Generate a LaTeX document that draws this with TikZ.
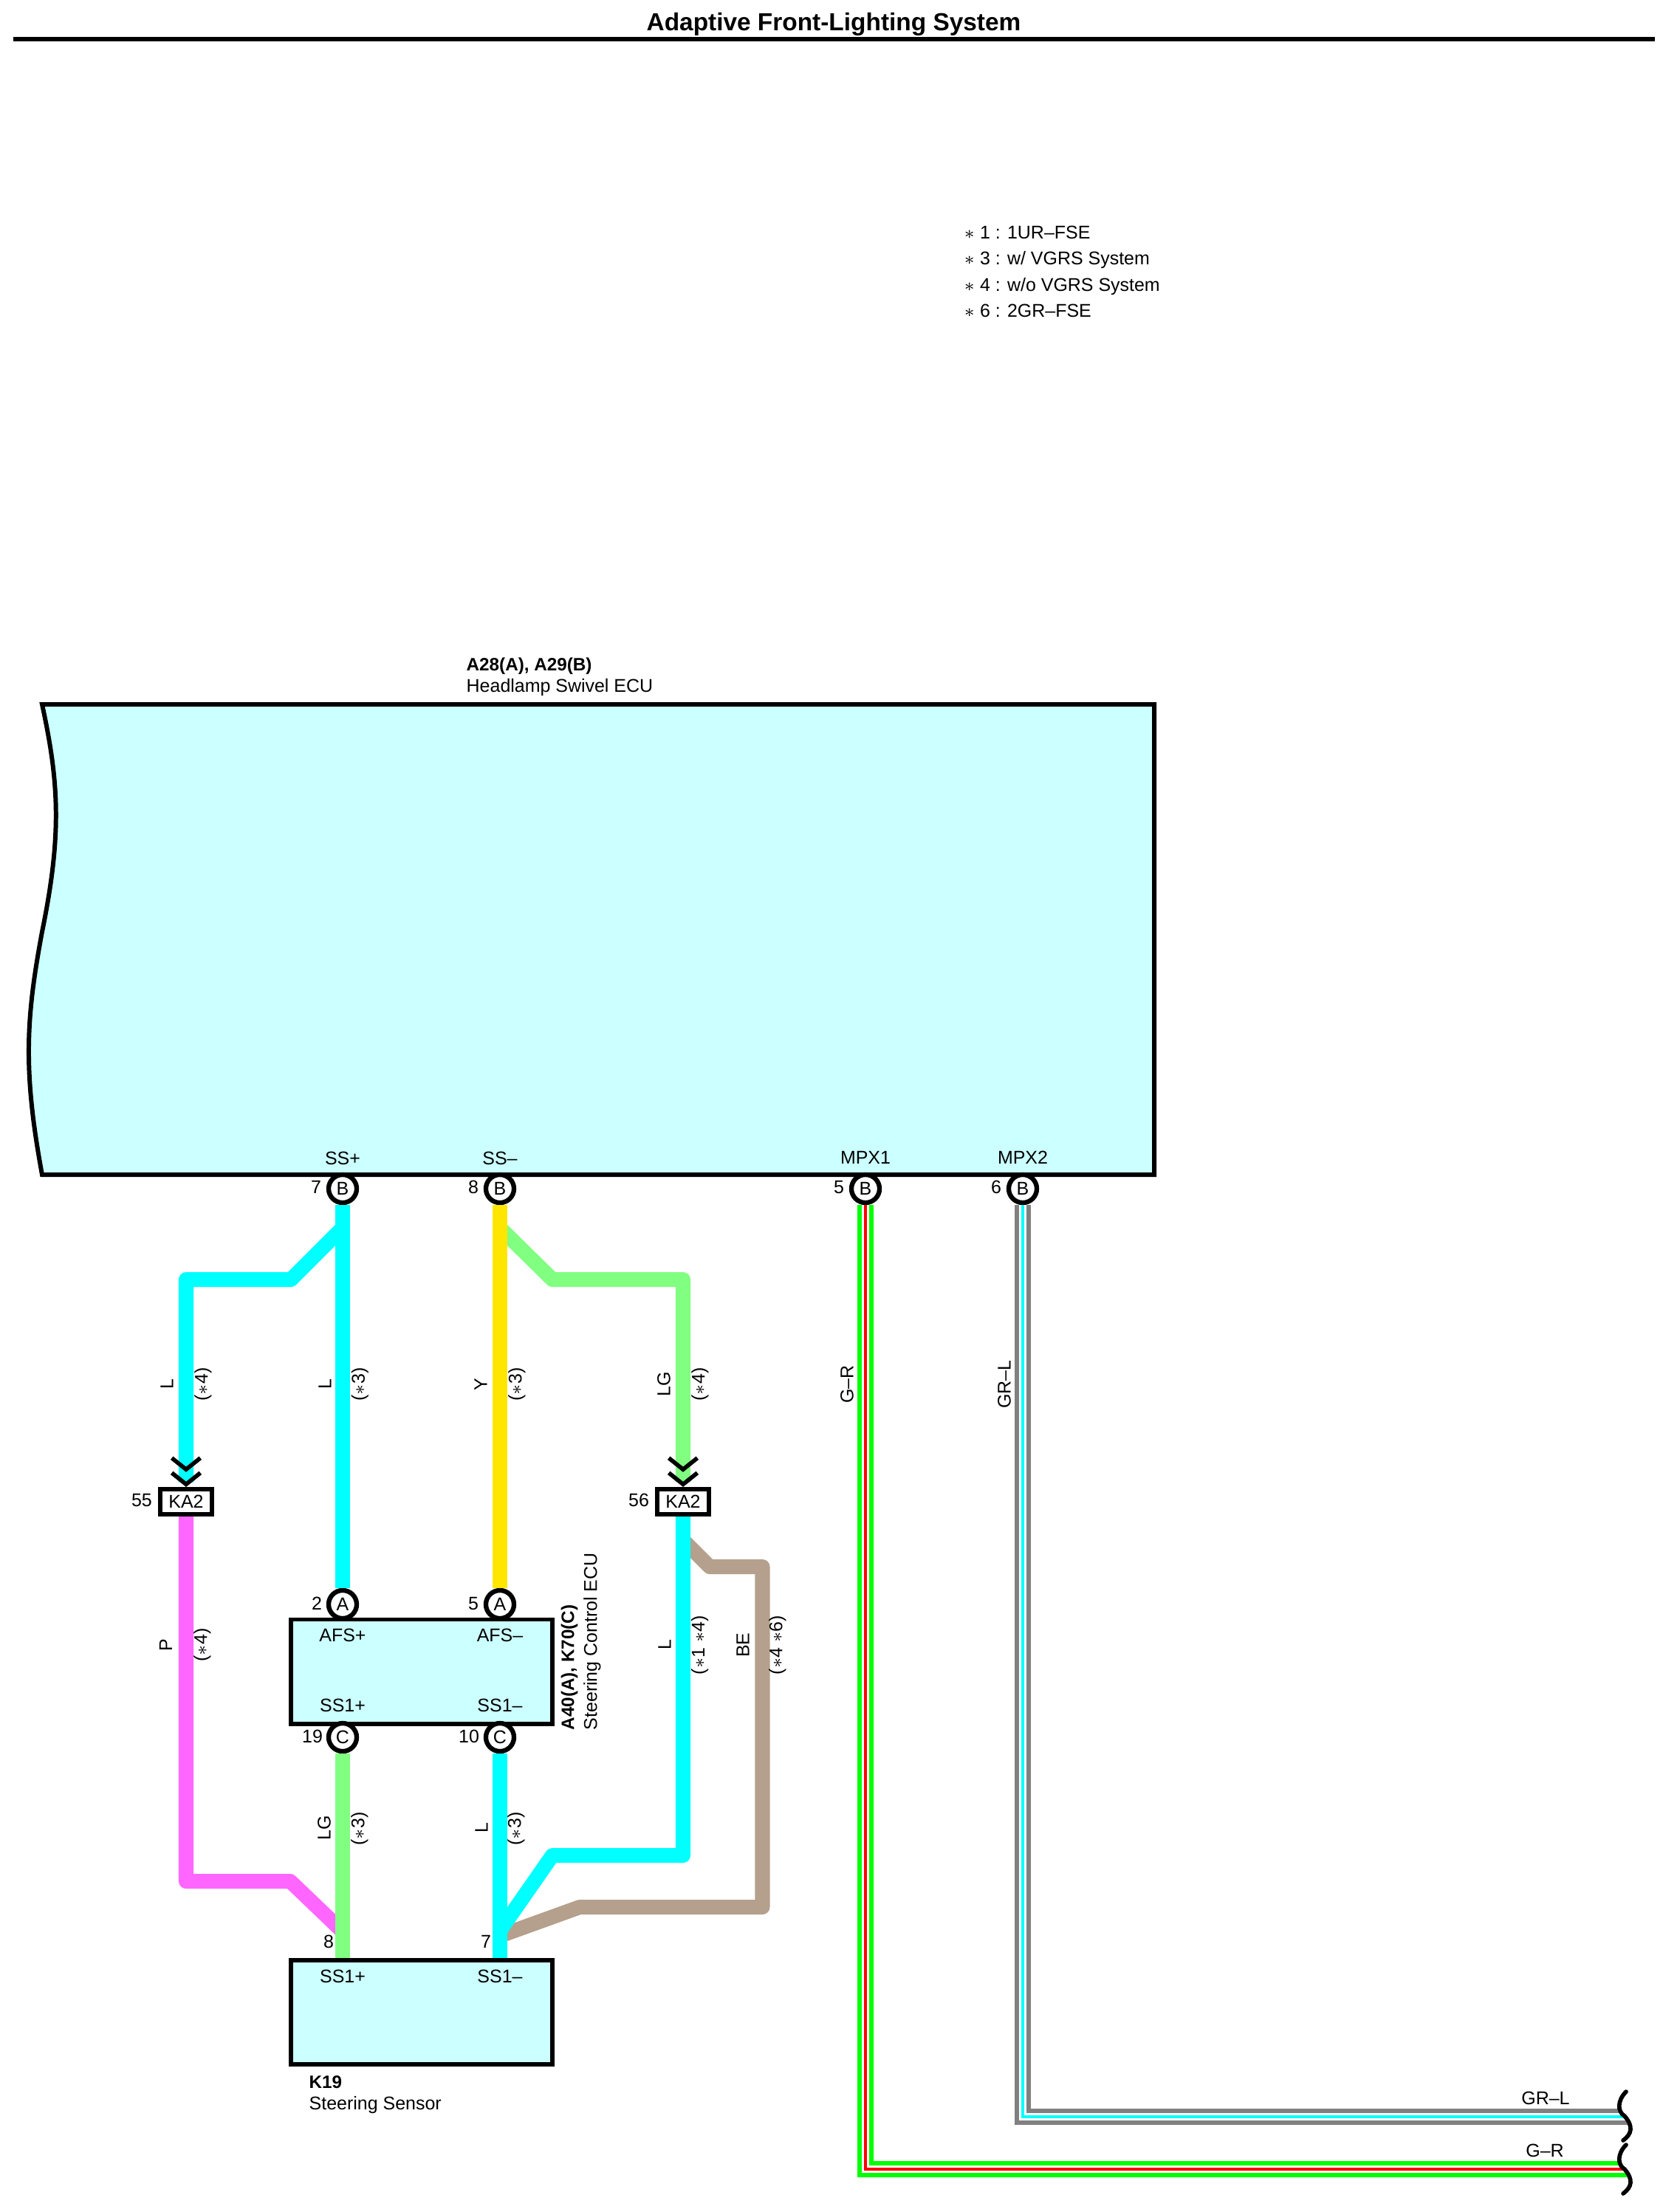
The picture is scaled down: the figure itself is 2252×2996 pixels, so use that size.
\documentclass[tikz,border=0pt]{standalone}
\usepackage{fontspec}
\setmainfont{Liberation Sans}
\usetikzlibrary{arrows.meta}
\usetikzlibrary{positioning}
\usepackage{xcolor}
\definecolor{ecufill}{HTML}{CCFFFF}
\definecolor{wireL}{HTML}{00FFFF}
\definecolor{wireLG}{HTML}{80FF80}
\definecolor{wireY}{HTML}{FFE600}
\definecolor{wireP}{HTML}{FF66FF}
\definecolor{wireBE}{HTML}{B4A08C}
\definecolor{wireG}{HTML}{00FF00}
\definecolor{wireR}{HTML}{FF0000}
\definecolor{wireGR}{HTML}{808080}
\newcommand{\kg}{$\ast$}
\tikzset{
	ecubox/.style={draw=black, fill=ecufill, line width=1.7pt, line join=miter, inner sep=0pt, minimum width=3.54cm, minimum height=1.41cm},
	pinnode/.style={circle, draw=black, fill=white, line width=1.8pt, minimum size=0.38cm, inner sep=0pt},
	kabox/.style={draw=black, fill=white, line width=1.6pt, minimum width=0.705cm, minimum height=0.345cm, inner sep=0pt},
	wire/.style={line width=5.7pt, line join=round},
	triple/.style n args={2}{line width=6pt, draw=#1, postaction={draw=white, line width=2.6pt}, postaction={draw=#2, line width=1.4pt}},
	kachev/.style={-{Straight Barb[black, length=4.4pt, width=11pt, line width=1.6pt, sep=-0.5pt] Straight Barb[black, length=4.4pt, width=11pt, line width=1.6pt]}},
	vlabel/.style={rotate=90, inner sep=0pt},
	squiggle/.style={draw=black, line width=1.6pt, line cap=round}
}
\begin{document}
\begin{tikzpicture}[x=0.01cm, y=-0.01cm, every node/.style={font=\fontsize{7.1}{8.4}\selectfont, inner sep=0pt}]
	\useasboundingbox (0,0) rectangle (2252,2996);
	% title and legend
	\node[font=\fontsize{9.5}{11}\selectfont\bfseries] (title) at (1129,33) {Adaptive Front-Lighting System};
	\coordinate (ruleL) at (18,53); \coordinate (ruleR) at (2241,53);
	\draw[line width=1.6pt] (ruleL) -- (ruleR);
	\node[anchor=west, align=left, font=\fontsize{7.1}{10.1}\selectfont] (legend) at (1305,368) {\kg{} 1 : 1UR–FSE\\\kg{} 3 : w/ VGRS System\\\kg{} 4 : w/o VGRS System\\\kg{} 6 : 2GR–FSE};

	% headlamp swivel ecu
	\draw[ecubox] (57,954) -- (1563,954) -- (1563,1591) -- (57,1591) .. controls (31,1450) and (35,1380) .. (57,1262) .. controls (84,1130) and (80,1060) .. (57,954) -- cycle;
	\node[anchor=west, font=\fontsize{6.9}{8.2}\selectfont\bfseries] (ecuid) at (631,902) {A28(A), A29(B)};
	\node[anchor=west] (ecuname) at (631,931) {Headlamp Swivel ECU};
	\node (ssp) at (464,1569) {SS+};
	\node (ssm) at (677,1569) {SS–};
	\node (mpa) at (1172,1568) {MPX1};
	\node (mpb) at (1385,1568) {MPX2};

	% steering control ecu and sensor
	\node[ecubox] (steer) at (571,2264) {};
	\node[ecubox] (sensor) at (571,2725.5) {};
	\node (afsp) at (464,2215) {AFS+};
	\node (afsm) at (677,2215) {AFS–};
	\node (scp) at (464,2310) {SS1+};
	\node (scm) at (677,2310) {SS1–};
	\node (snp) at (464,2677) {SS1+};
	\node (snm) at (677,2677) {SS1–};
	\node[vlabel, anchor=west, font=\fontsize{6.9}{8.2}\selectfont\bfseries] (steerid) at (771,2344) {A40(A), K70(C)};
	\node[vlabel, anchor=west] (steername) at (802,2344) {Steering Control ECU};
	\node[anchor=west, font=\fontsize{6.9}{8.2}\selectfont\bfseries] (sensorid) at (418,2820) {K19};
	\node[anchor=west] (sensorname) at (418,2851) {Steering Sensor};

	% pins
	\node[pinnode] (pinSSp) at (464,1610) {B};
	\node[pinnode] (pinSSm) at (677,1610) {B};
	\node[pinnode] (pinMa) at (1172,1610) {B};
	\node[pinnode] (pinMb) at (1385,1610) {B};
	\node[pinnode] (pinAp) at (464,2173) {A};
	\node[pinnode] (pinAm) at (677,2173) {A};
	\node[pinnode] (pinCp) at (464,2353) {C};
	\node[pinnode] (pinCm) at (677,2353) {C};
	\node[kabox] (kaL) at (252,2034) {KA2};
	\node[kabox] (kaR) at (925,2034) {KA2};
	\node (n7) at (428,1608) {7};
	\node (n8) at (641,1608) {8};
	\node (n5) at (1136,1608) {5};
	\node (n6) at (1349,1608) {6};
	\node (n55) at (192,2032) {55};
	\node (n56) at (865,2032) {56};
	\node (n2) at (429,2172) {2};
	\node (n5b) at (641,2172) {5};
	\node (n19) at (423,2352) {19};
	\node (n10) at (635,2352) {10};
	\node (n8b) at (445,2630) {8};
	\node (n7b) at (658,2630) {7};

	% branch points on the wires
	\coordinate (jLtop) at (464,1663);
	\coordinate (jLGtop) at (677,1663);
	\coordinate (jPbot) at (464,2616);
	\coordinate (jLbot) at (677,2615);
	\coordinate (jBEbot) at (677,2622);
	\coordinate (jBEtop) at (925,2086);
	\coordinate (endGRL) at (2206,2867);
	\coordinate (endGR) at (2206,2938);

	% wires
	\draw[wire, wireL, kachev] (jLtop) -- (394,1733) -| (kaL);
	\draw[wire, wireLG, kachev] (jLGtop) -- (748,1733) -| (kaR);
	\draw[wire, wireP] (kaL) |- (393,2548) -- (jPbot);
	\draw[wire, wireBE] (jBEtop) -- (961,2122) -- (1032.5,2122) -- (1032.5,2583) -- (785,2583) -- (jBEbot);
	\draw[wire, wireL] (kaR) |- (748,2513) -- (jLbot);
	\draw[wire, wireL] (pinSSp) -- (pinAp);
	\draw[wire, wireY] (pinSSm) -- (pinAm);
	\draw[wire, wireLG] (pinCp) -- (sensor.north -| pinCp);
	\draw[wire, wireL] (pinCm) -- (sensor.north -| pinCm);
	\draw[triple={wireG}{wireR}] (pinMa) |- (endGR);
	\draw[triple={wireGR}{wireL}] (pinMb) |- (endGRL);

	% wire ends
	\foreach \dy in {0,72} {
		\fill[white] (2202,2833+\dy) .. controls (2190,2845+\dy) and (2190,2860+\dy) .. (2200,2866+\dy) .. controls (2212,2880+\dy) and (2210,2890+\dy) .. (2198,2899+\dy) -- (2230,2899+\dy) -- (2230,2833+\dy) -- cycle;
		\draw[squiggle] (2202,2833+\dy) .. controls (2190,2845+\dy) and (2190,2860+\dy) .. (2200,2866+\dy) .. controls (2212,2880+\dy) and (2210,2890+\dy) .. (2198,2899+\dy);
	}

	% wire labels
	\node[vlabel] (lL1) at (226,1875) {L};
	\node[vlabel] (oL1) at (275,1875) {(\kg4)};
	\node[vlabel] (lL2) at (440,1875) {L};
	\node[vlabel] (oL2) at (487.5,1875) {(\kg3)};
	\node[vlabel] (lY) at (651,1875) {Y};
	\node[vlabel] (oY) at (700,1875) {(\kg3)};
	\node[vlabel] (lLG) at (899,1875) {LG};
	\node[vlabel] (oLG) at (948,1875) {(\kg4)};
	\node[vlabel] (lP) at (224.5,2228) {P};
	\node[vlabel] (oP) at (274,2228) {(\kg4)};
	\node[vlabel] (lL3) at (900,2228) {L};
	\node[vlabel] (oL3) at (947.6,2228) {(\kg1 \kg4)};
	\node[vlabel] (lBE) at (1006,2228) {BE};
	\node[vlabel] (oBE) at (1053,2228) {(\kg4 \kg6)};
	\node[vlabel] (lLG2) at (439,2476) {LG};
	\node[vlabel] (oLG2) at (487,2477) {(\kg3)};
	\node[vlabel] (lL4) at (652,2476) {L};
	\node[vlabel] (oL4) at (699,2477) {(\kg3)};
	\node[vlabel] (lGR) at (1147,1875) {G–R};
	\node[vlabel] (lGRL) at (1360,1875) {GR–L};
	\node (hGRL) at (2093,2842) {GR–L};
	\node (hGR) at (2092,2913) {G–R};
\end{tikzpicture}
\end{document}
